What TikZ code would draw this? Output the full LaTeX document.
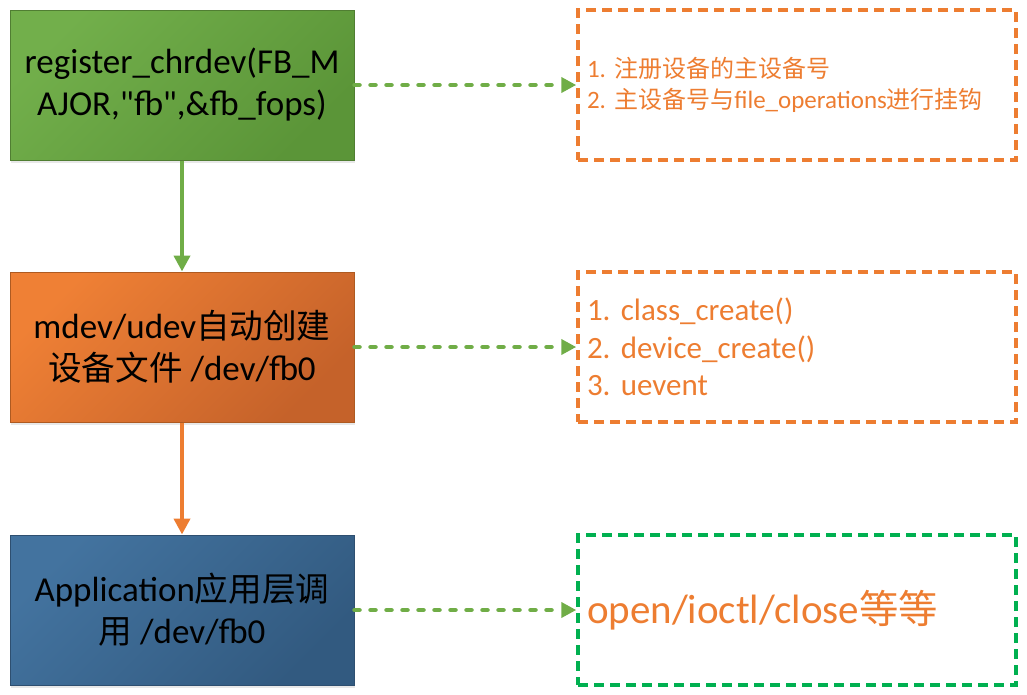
\documentclass[tikz,border=0pt]{standalone}
\usepackage{fontspec}
\setmainfont{Carlito}[Ligatures=TeXOff]
\newfontfamily\cjk[Scale=0.96]{Noto Sans CJK SC}
\newcommand{\zh}[1]{{\cjk #1}}
\usepackage{tikz}
\usetikzlibrary{arrows.meta, positioning, shadows}
\definecolor{grnA}{HTML}{72AF4B}
\definecolor{grnB}{HTML}{5B9538}
\definecolor{grnLine}{HTML}{507E32}
\definecolor{orgA}{HTML}{EF8035}
\definecolor{orgB}{HTML}{C5622A}
\definecolor{orgLine}{HTML}{AE5A21}
\definecolor{bluA}{HTML}{43739F}
\definecolor{bluB}{HTML}{325A80}
\definecolor{bluLine}{HTML}{2E4F70}
\definecolor{lgreen}{HTML}{70AD47}
\definecolor{orng}{HTML}{ED7D31}
\definecolor{dgreen}{HTML}{00B050}
\frenchspacing

\begin{document}
\begin{tikzpicture}[x=1pt, y=-1pt,
    stage/.style={line width=1pt, minimum width=344pt, minimum height=150pt,
      inner sep=0pt, align=center, font=\fontsize{35}{42}\selectfont,
      drop shadow={opacity=0.18, shadow xshift=1pt, shadow yshift=-2.5pt}},
    greenstage/.style={stage, draw=grnLine, top color=grnA, bottom color=grnB, shading angle=45},
    orangestage/.style={stage, draw=orgLine, top color=orgA, bottom color=orgB, shading angle=45},
    bluestage/.style={stage, draw=bluLine, top color=bluA, bottom color=bluB, shading angle=45},
    note/.style={draw=orng, line width=3.5pt, dash pattern=on 10pt off 6pt,
      minimum width=438pt, minimum height=150pt, text width=420pt,
      inner xsep=9pt, align=left, text=orng},
    dotarrow/.style={draw=lgreen, line width=4.5pt, line cap=round,
      dash pattern=on 5pt off 11pt, -{Triangle[length=15pt, width=15pt]}},
    downarrow/.style={line width=4pt, -{Triangle[length=16pt, width=16pt]}}]
  \useasboundingbox (0,0) rectangle (1027,694);

  % left column
  \node[greenstage] (reg) at (182,85) {register\_chrdev(FB\_M\\AJOR,"fb",\&fb\_fops)};
  \node[orangestage] (mdev) at (182,347) {mdev/udev\zh{自动创建}\\\zh{设备文件} /dev/fb0};
  \node[bluestage] (app) at (182,610) {Application\zh{应用层调}\\\zh{用} /dev/fb0};

  % right column
  \node[note, font=\fontsize{25}{31}\selectfont] (major) at (797,85)
    {1. \zh{注册设备的主设备号}\\2. \zh{主设备号与}file\_operations\zh{进行挂钩}};
  \node[note, font=\fontsize{31}{37.5}\selectfont] (create) at (797,347)
    {1. class\_create()\\2. device\_create()\\3. uevent};
  \node[note, draw=dgreen, font=\fontsize{41}{48}\selectfont] (ops) at (797,610)
    {open/ioctl/close\zh{等等}};

  % arrows
  \draw[downarrow, draw=lgreen, fill=lgreen] (reg.south) -- (mdev.north);
  \draw[downarrow, draw=orng, fill=orng] (mdev.south) -- (app.north);
  \draw[dotarrow] (reg.east) -- (major.west);
  \draw[dotarrow] (mdev.east) -- (create.west);
  \draw[dotarrow] (app.east) -- (ops.west);
\end{tikzpicture}
\end{document}
